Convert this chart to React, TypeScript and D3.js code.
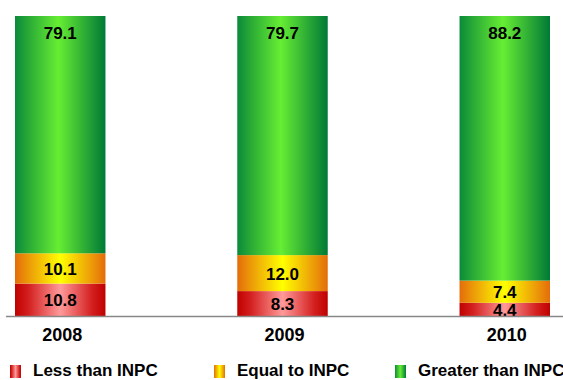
import React from "react";
import * as d3 from "d3";

const years = ["2008", "2009", "2010"];
const lessThan = [10.8, 8.3, 4.4];
const equalTo = [10.1, 12.0, 7.4];
const greaterThan = [79.1, 79.7, 88.2];
const seriesNames = ["Less than INPC", "Equal to INPC", "Greater than INPC"];

const W = 563;
const H = 380;

const gradients = [
  { id: "gRed", stops: [["0%", "#c00000"], ["15%", "#d42020"], ["50%", "#ff9a9a"], ["85%", "#d42020"], ["100%", "#c00000"]] },
  { id: "gOrange", stops: [["0%", "#e46c0a"], ["15%", "#ec9a08"], ["50%", "#ffff00"], ["85%", "#ec9a08"], ["100%", "#e46c0a"]] },
  { id: "gGreen", stops: [["0%", "#0a8a3a"], ["15%", "#2aaa36"], ["48%", "#66ee33"], ["85%", "#1e9a36"], ["100%", "#007a36"]] },
];

export default function App() {
  const x = d3.scaleBand<string>().domain(years).range([15, 550]).paddingInner(0.593).paddingOuter(0);
  const y = d3.scaleLinear().domain([0, 100]).range([316, 16]);
  const series = [lessThan, equalTo, greaterThan];
  const stacked = d3.stack<number>().keys(["0", "1", "2"]).value((_d, key) => series[+key][_d])(
    years.map((_, i) => i)
  );
  const bw = x.bandwidth();
  const legendX = [10, 214, 395];
  const font = "Arial, 'Liberation Sans', sans-serif";

  return (
    <svg width={W} height={H} style={{ position: "absolute", left: 0, top: 0, display: "block" }} fontFamily={font}>
      <defs>
        {gradients.map((g) => (
          <linearGradient key={g.id} id={g.id} x1="0" x2="1" y1="0" y2="0">
            {g.stops.map(([o, c]) => (
              <stop key={o} offset={o} stopColor={c} />
            ))}
          </linearGradient>
        ))}
      </defs>
      <rect x={0} y={0} width={W} height={H} fill="#fff" />
      {stacked.map((layer, si) =>
        layer.map((d, i) => {
          const x0 = x(years[i])!;
          const yTop = y(d[1]);
          const yBot = y(d[0]);
          const val = series[si][i];
          const cx = x0 + bw / 2;
          return (
            <g key={`${si}-${i}`}>
              <rect x={x0} y={yTop} width={bw} height={yBot - yTop} fill={`url(#${gradients[si].id})`} />
              <text
                x={cx}
                y={si === 2 ? yTop + 23 : (yTop + yBot) / 2 + 1}
                dominantBaseline={si === 2 ? "auto" : "central"}
                textAnchor="middle"
                fontSize={17}
                fontWeight="bold"
                fill="#000"
              >
                {val.toFixed(1)}
              </text>
            </g>
          );
        })
      )}
      <line x1={6} x2={563} y1={316.5} y2={316.5} stroke="#888" strokeWidth={1.5} />
      {years.map((yr) => (
        <text key={yr} x={x(yr)! + bw / 2 + 2} y={341} textAnchor="middle" fontSize={18} fontWeight="bold" fill="#000">
          {yr}
        </text>
      ))}
      {seriesNames.map((n, i) => (
        <g key={n}>
          <rect x={legendX[i]} y={365} width={11} height={13} fill={`url(#${gradients[i].id})`} />
          <text x={legendX[i] + 23} y={376} fontSize={17} fontWeight="bold" fill="#000">
            {n}
          </text>
        </g>
      ))}
    </svg>
  );
}
